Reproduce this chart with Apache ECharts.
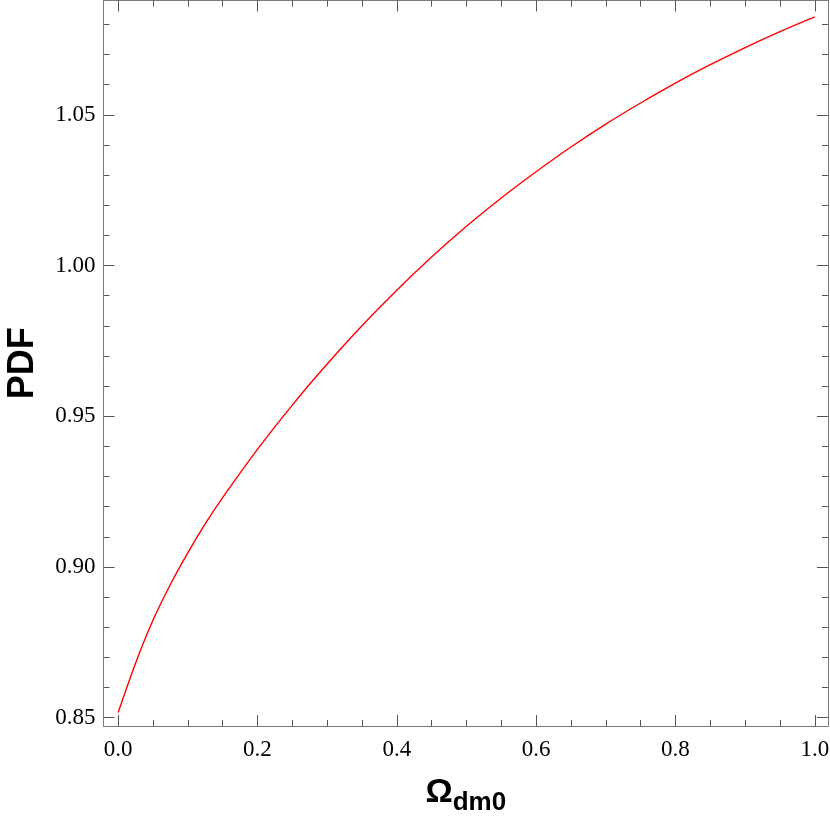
<!DOCTYPE html>
<html>
<head>
<meta charset="utf-8">
<script src="https://cdn.jsdelivr.net/npm/echarts@6/dist/echarts.min.js"></script>
<style>
html,body{margin:0;padding:0;background:#fff;}
#chart{width:830px;height:824px;}
</style>
</head>
<body>
<div id="chart"></div>
<script>
// Data
var omegaDm0 = [0, 0.025, 0.05, 0.075, 0.1, 0.125, 0.15, 0.2, 0.25, 0.3, 0.35, 0.4, 0.45, 0.5, 0.55, 0.6, 0.65, 0.7, 0.75, 0.8, 0.85, 0.9, 0.95, 1.0];
var pdfValues = [0.8517, 0.8681, 0.8823, 0.8942, 0.9047, 0.9143, 0.9230, 0.9390, 0.9537, 0.9673, 0.9800, 0.9918, 1.0028, 1.0130, 1.0224, 1.0311, 1.0393, 1.0469, 1.0539, 1.0605, 1.0666, 1.0723, 1.0776, 1.0825];

var xMajorTicks = [0, 0.2, 0.4, 0.6, 0.8, 1.0];
var xMinorTicks = [0.05, 0.1, 0.15, 0.25, 0.3, 0.35, 0.45, 0.5, 0.55, 0.65, 0.7, 0.75, 0.85, 0.9, 0.95];
var yMajorTicks = [0.85, 0.90, 0.95, 1.00, 1.05];
var yMinorTicks = [0.86, 0.87, 0.88, 0.89, 0.91, 0.92, 0.93, 0.94, 0.96, 0.97, 0.98, 0.99, 1.01, 1.02, 1.03, 1.04, 1.06, 1.07, 1.08];

var xRange = [-0.021, 1.019];
var yRange = [0.84725, 1.0879];

var frameColor = '#7a7a7a';
var tickColor = '#555';
var serif = '"Liberation Serif", "Times New Roman", serif';
var sans = '"Liberation Sans", Arial, sans-serif';

function makeAxis(kind, pos, ticks, len, showLabel, showLine, extra) {
  var ax = {
    type: 'value',
    position: pos,
    min: kind === 'x' ? xRange[0] : yRange[0],
    max: kind === 'x' ? xRange[1] : yRange[1],
    splitLine: {show: false},
    axisLine: {show: showLine, onZero: false, lineStyle: {color: frameColor, width: 1}},
    axisTick: {show: true, inside: true, length: len, customValues: ticks, lineStyle: {color: tickColor, width: 1}},
    axisLabel: {show: showLabel, customValues: ticks, color: '#000', fontFamily: serif, fontSize: 23,
      margin: kind === 'x' ? 12 : 8,
      formatter: function (v) { return kind === 'x' ? v.toFixed(1) : v.toFixed(2); }},
    minorTick: {show: false}
  };
  if (extra) { for (var k in extra) ax[k] = extra[k]; }
  return ax;
}

var chart = echarts.init(document.getElementById('chart'), null, {renderer: 'canvas'});
chart.setOption({
  animation: false,
  backgroundColor: '#fff',
  grid: {left: 103.5, right: 2, top: 0.5, bottom: 98, containLabel: false, outerBoundsMode: 'none'},
  xAxis: [
    makeAxis('x', 'bottom', xMajorTicks, 11, true, true, {
      name: '{o|Ω}{s|dm0}',
      nameLocation: 'middle',
      nameGap: 50,
      nameTextStyle: {
        rich: {
          o: {fontSize: 34, fontWeight: 'bold', fontFamily: sans, color: '#000', lineHeight: 40, verticalAlign: 'top'},
          s: {fontSize: 26, fontWeight: 'bold', fontFamily: sans, color: '#000', lineHeight: 20, verticalAlign: 'bottom'}
        }
      }
    }),
    makeAxis('x', 'bottom', xMinorTicks, 6, false, false),
    makeAxis('x', 'top', xMajorTicks, 11, false, true),
    makeAxis('x', 'top', xMinorTicks, 6, false, false)
  ],
  yAxis: [
    makeAxis('y', 'left', yMajorTicks, 11, true, true, {
      name: 'PDF',
      nameLocation: 'middle',
      nameGap: 62,
      nameRotate: 90,
      nameTextStyle: {fontSize: 36, fontWeight: 'bold', fontFamily: sans, color: '#000', lineHeight: 36}
    }),
    makeAxis('y', 'left', yMinorTicks, 6, false, false),
    makeAxis('y', 'right', yMajorTicks, 11, false, true),
    makeAxis('y', 'right', yMinorTicks, 6, false, false)
  ],
  series: [{
    type: 'line',
    xAxisIndex: 0,
    yAxisIndex: 0,
    data: omegaDm0.map(function (x, i) { return [x, pdfValues[i]]; }),
    showSymbol: false,
    smooth: 0.3,
    lineStyle: {color: '#ff0000', width: 1.4},
    clip: true
  }]
});
</script>
</body>
</html>
